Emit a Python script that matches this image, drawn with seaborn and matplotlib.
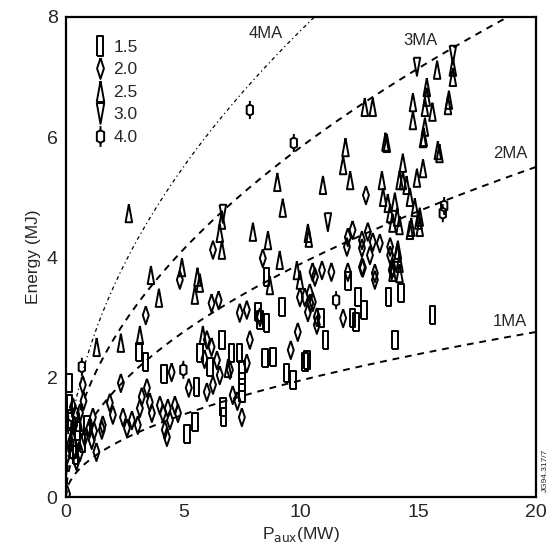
import numpy as np
import pandas as pd
import matplotlib
matplotlib.use("Agg")
import matplotlib.pyplot as plt
from matplotlib.path import Path
from matplotlib.lines import Line2D
import seaborn as sns

x_15 = [0.13, 0.1, 0.2, 0.3, 0.5, 0.7, 0.15, 0.4, 0.9,
        3.11, 3.40, 4.17, 5.15, 5.49, 5.57, 5.7, 6.13, 6.64, 7.06, 7.4, 7.49, 7.49, 6.68, 6.72, 7.49,
        8.55, 8.26, 8.55, 9.19, 8.47, 8.81, 9.4, 9.66, 10.26, 10.17,
        12.0, 12.43, 12.68, 12.2, 12.34, 13.74, 14.26, 15.6, 14.0, 11.06, 10.85, 8.17]
y_15 = [1.9, 1.0, 1.3, 0.8, 1.1, 0.9, 1.55, 0.7, 1.2,
        2.42, 2.25, 2.05, 1.05, 1.25, 1.83, 2.4, 2.17, 2.62, 2.4, 2.4, 2.12, 1.73, 1.5, 1.33, 1.92,
        3.67, 2.95, 2.9, 3.17, 2.32, 2.33, 2.07, 1.95, 2.28, 2.25,
        3.6, 3.33, 3.12, 2.98, 2.92, 3.33, 3.4, 3.03, 2.62, 2.62, 2.98, 3.08]

x_20 = [0.2, 0.35, 0.6, 0.8, 1.0, 0.45, 0.6, 1.1, 0.3, 0.75, 0.05, 1.2, 0.72, 1.15, 1.3, 0.05,
        2.34, 1.87, 2.0, 1.57, 1.53, 2.43, 2.6, 2.81, 3.06, 3.15, 3.23, 3.45, 3.57, 3.66, 4.0, 4.13,
        4.34, 4.43, 4.77, 4.64, 4.21, 4.3, 4.5,
        3.4, 4.85, 6.2, 6.5, 6.26, 8.38, 8.26, 7.7, 7.4, 9.87, 9.57, 7.83, 9.96,
        6.0, 6.2, 6.43, 6.55, 6.0, 5.23, 7.1, 7.49, 7.7, 6.98, 6.26, 5.9,
        10.6, 10.38, 10.51, 10.3, 10.68, 10.68, 12.77, 12.2, 12.0, 12.6, 12.85, 13.06, 12.94, 12.6,
        11.96, 13.8, 10.5, 10.9, 11.3, 12.0, 12.6, 13.15, 10.17, 10.4, 11.8, 12.64, 13.15, 13.9,
        13.36, 13.8, 13.87, 7.3]
y_20 = [0.9, 1.2, 1.4, 1.0, 1.15, 0.6, 0.75, 0.95, 1.5, 1.6, 0.7, 1.1, 1.87, 1.33, 0.75, 0.05,
        1.9, 1.57, 1.37, 1.2, 1.12, 1.33, 1.15, 1.28, 1.2, 1.48, 1.67, 1.82, 1.58, 1.4, 1.53, 1.4,
        1.48, 1.28, 1.4, 1.53, 1.12, 1.0, 2.08,
        3.03, 3.62, 3.23, 3.28, 4.12, 3.98, 3.0, 3.12, 3.07, 2.75, 2.45, 2.62, 3.33,
        2.62, 2.5, 2.28, 2.03, 1.75, 1.82, 1.7, 1.33, 2.23, 2.12, 1.87, 2.3,
        3.67, 3.4, 3.25, 3.08, 3.0, 2.87, 5.03, 4.45, 4.33, 4.28, 4.42, 4.25, 4.03, 4.15,
        4.17, 4.17, 3.75, 3.78, 3.75, 3.75, 3.83, 3.73, 3.33, 3.23, 2.98, 3.82, 3.62, 3.82,
        4.23, 4.03, 3.78, 1.6]

x_25 = [1.31, 2.34, 3.15, 2.68, 3.62, 3.96, 4.94, 5.6, 5.49, 6.64, 6.55, 6.64, 9.23, 7.96, 8.6,
        9.1, 8.68, 9.83, 9.96, 10.34, 6.9, 5.83, 5.7,
        11.9, 13.6, 11.8, 12.1, 10.94, 13.45, 14.34, 15.2, 14.77, 15.28, 15.23, 15.83, 14.2, 14.5,
        14.94, 13.5, 13.7, 14.0, 13.8, 14.1, 13.9, 14.64, 14.85, 15.0, 14.7, 15.06, 14.2, 14.1,
        14.2, 13.9, 15.8, 16.47, 16.47, 16.3, 16.26, 15.36, 15.36, 14.77, 15.28, 15.6, 15.2, 13.66,
        15.9, 14.34, 12.72, 13.06, 9.0, 10.3, 14.64, 15.06, 14.2, 14.13, 0.3, 0.55]
y_25 = [2.5, 2.57, 2.7, 4.73, 3.7, 3.32, 3.83, 3.67, 3.37, 4.62, 4.4, 4.12, 4.82, 4.42, 4.28,
        3.95, 3.53, 3.78, 3.62, 4.32, 2.15, 2.7, 3.57,
        5.83, 5.92, 5.53, 5.28, 5.2, 5.28, 5.57, 5.48, 6.28, 6.17, 6.0, 5.78, 5.28, 5.2,
        5.32, 5.0, 4.9, 4.92, 4.73, 4.67, 4.57, 5.0, 4.83, 4.62, 4.5, 4.5, 4.53, 4.07,
        3.9, 3.75, 7.12, 7.17, 7.0, 6.62, 6.53, 6.83, 6.67, 6.58, 6.5, 6.42, 5.98, 5.9,
        5.73, 5.28, 6.5, 6.5, 5.25, 4.4, 4.45, 4.67, 3.73, 4.12, 1.0, 1.25]

x_30 = [14.94, 16.47, 11.15, 6.68]
y_30 = [7.17, 7.37, 4.58, 4.72]

x_40 = [0.68, 5.0, 7.83, 9.7, 16.04, 16.1, 11.5, 0.1, 0.4]
y_40 = [2.17, 2.12, 6.45, 5.9, 4.73, 4.85, 3.28, 1.2, 1.4]

groups = ["1.5", "2.0", "2.5", "3.0", "4.0"]

# scaling curves E = k * I * sqrt(P), k (2.75 MJ at 20 MW)
curve_I = [1, 2, 3, 4]
curve_k = 2.75 / np.sqrt(20)

# marker shapes (tall, narrow)
m_rect = [(-0.3, -1), (0.3, -1), (0.3, 1), (-0.3, 1), (-0.3, -1)]
m_diam = [(0, 1), (0.33, 0), (0, -1), (-0.33, 0), (0, 1)]
m_up = [(0, 1), (0.36, -1), (-0.36, -1), (0, 1)]
m_down = [(-0.36, 1), (0.36, 1), (0, -1), (-0.36, 1)]
m_hex = Path([(0, 1), (0, 0.6), (0.35, 0.42), (0.35, -0.42), (0, -0.6), (-0.35, -0.42),
              (-0.35, 0.42), (0, 0.6), (0, -0.6), (0, -1)],
             [Path.MOVETO, Path.LINETO, Path.LINETO, Path.LINETO, Path.LINETO, Path.LINETO,
              Path.LINETO, Path.LINETO, Path.MOVETO, Path.LINETO])
markers = dict(zip(groups, [m_rect, m_diam, m_up, m_down, m_hex]))

df = pd.concat([
    pd.DataFrame({"P": x, "E": y, "I": g})
    for g, x, y in zip(groups, [x_15, x_20, x_25, x_30, x_40], [y_15, y_20, y_25, y_30, y_40])
])

sns.set_style("white")
plt.rcParams["font.family"] = ["Liberation Sans", "DejaVu Sans"]

fig = plt.figure(figsize=(5.49, 5.48), dpi=100)
ax = fig.add_axes([0.12, 0.093, 0.856, 0.876])

P = np.linspace(0, 20, 400)
styles = [(0, (3.5, 3)), (0, (3.5, 3)), (0, (3.5, 3)), (0, (3, 2.5, 1, 2.5))]
widths = [1.4, 1.4, 1.4, 0.9]
for I, ls, lw in zip(curve_I, styles, widths):
    sns.lineplot(x=P, y=curve_k * I * np.sqrt(P), color="black", linestyle=ls, lw=lw, ax=ax)

sns.scatterplot(data=df, x="P", y="E", style="I", markers=markers, s=170,
                color="black", legend=False, ax=ax)
for coll in ax.collections:
    coll.set_facecolor("none")
    coll.set_edgecolor("black")
    coll.set_linewidth(1.4)

ax.text(8.5, 7.72, "4MA", fontsize=12, ha="center", va="center")
ax.text(15.1, 7.6, "3MA", fontsize=12, ha="center", va="center")
ax.text(18.9, 5.72, "2MA", fontsize=12, ha="center", va="center")
ax.text(18.9, 2.93, "1MA", fontsize=12, ha="center", va="center")

handles = [Line2D([], [], marker=markers[g], linestyle="none", markerfacecolor="none",
                  markeredgecolor="black", markeredgewidth=1.4, markersize=15) for g in groups]
ax.legend(handles, groups, loc="upper left", bbox_to_anchor=(0.025, 0.985), frameon=False,
          fontsize=12.5, handlelength=0.8, handletextpad=0.35, labelspacing=0.42)

ax.set_xlim(0, 20)
ax.set_ylim(0, 8)
ax.set_xticks([0, 5, 10, 15, 20])
ax.set_yticks([0, 2, 4, 6, 8])
ax.tick_params(direction="in", length=8, width=1.3, labelsize=14)
ax.tick_params(axis="x", pad=5)
ax.tick_params(axis="y", pad=6)
for sp in ax.spines.values():
    sp.set_linewidth(1.6)
    sp.set_color("black")
ax.set_xlabel("P$_{\\rm aux}$(MW)", fontsize=12.5, labelpad=3)
ax.set_ylabel("Energy (MJ)", fontsize=12.5, labelpad=4)
ax.text(1.012, 0.01, "JG94.317/7", transform=ax.transAxes, rotation=90, fontsize=6,
        ha="left", va="bottom")

fig.savefig("out.png", dpi=100)
